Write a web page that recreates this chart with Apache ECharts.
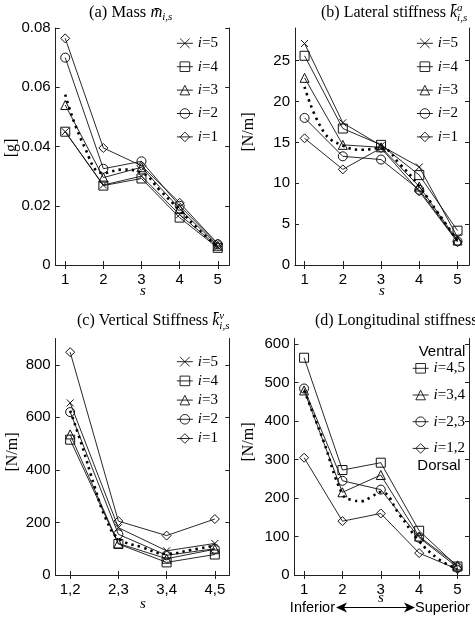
<!DOCTYPE html>
<html><head><meta charset="utf-8">
<script src="https://cdn.jsdelivr.net/npm/echarts@6/dist/echarts.min.js"></script>
<style>html,body{margin:0;padding:0;background:#fff}#c{width:475px;height:621px}</style>
</head><body><div id="c"></div><script>
// ---------- data ----------
const sPos = [1, 2, 3, 4, 5];
const sTicks = [1, 2, 3, 4, 5];
const vertCats = ['1,2', '2,3', '3,4', '4,5'];
const vertPos = [1, 2, 3, 4];

const massTicks = [0, 0.02, 0.04, 0.06, 0.08];
const massI1 = [0.0765, 0.0395, 0.0335, 0.0210, 0.0072];
const massI2 = [0.0700, 0.0325, 0.0350, 0.0200, 0.0070];
const massI3 = [0.0540, 0.0295, 0.0330, 0.0190, 0.0065];
const massI4 = [0.0450, 0.0268, 0.0292, 0.0160, 0.0058];
const massI5 = [0.0450, 0.0270, 0.0300, 0.0170, 0.0062];
const massFitS = [1, 1.5, 2, 2.5, 3, 3.5, 4, 4.5, 5];
const massFit = [0.0575, 0.0400, 0.0310, 0.0322, 0.0312, 0.0250, 0.0185, 0.0120, 0.0060];

const latTicks = [0, 5, 10, 15, 20, 25];
const latI1 = [15.5, 11.7, 14.3, 9.0, 2.8];
const latI2 = [18.0, 13.3, 12.9, 9.2, 2.9];
const latI3 = [22.9, 14.7, 14.4, 9.6, 3.0];
const latI4 = [25.6, 16.7, 14.7, 11.0, 4.2];
const latI5 = [27.1, 17.4, 14.6, 12.0, 3.4];
const latFitS = [1, 1.5, 2, 2.5, 3, 3.5, 4, 4.5, 5];
const latFit = [21.8, 16.3, 14.6, 14.1, 14.3, 12.3, 9.6, 6.3, 3.0];

const vertTicks = [0, 200, 400, 600, 800];
const vertI1 = [848, 205, 150, 213];
const vertI2 = [620, 155, 75, 100];
const vertI3 = [535, 120, 62, 98];
const vertI4 = [515, 118, 48, 78];
const vertI5 = [655, 180, 92, 120];
const vertFitS = [1, 1.25, 1.5, 1.75, 2, 2.5, 3, 3.5, 4];
const vertFit = [625, 490, 340, 210, 140, 105, 80, 95, 112];

const longTicks = [0, 100, 200, 300, 400, 500, 600];
const longI45 = [565, 273, 292, 115, 22];
const longI34 = [480, 215, 260, 100, 25];
const longI23 = [485, 245, 222, 97, 20];
const longI12 = [305, 140, 160, 57, 15];
const longFitS = [1, 1.5, 2, 2.25, 2.5, 2.75, 3, 3.5, 4, 4.5, 5];
const longFit = [480, 350, 210, 195, 192, 203, 216, 155, 88, 42, 15];

// ---------- styling / layout ----------
const SANS = 'Liberation Sans';
const SERIF = 'Liberation Serif';
const grids = [
  {left: 55.7, top: 28, width: 173.5, height: 237},
  {left: 295, top: 28, width: 174, height: 237},
  {left: 55.7, top: 338.5, width: 173.6, height: 236.5},
  {left: 294.5, top: 338.5, width: 174.5, height: 236.5}
];
const SYM = {
  cross: 'path://M0,0L10,10M10,0L0,10',
  square: 'rect', triangle: 'triangle', circle: 'circle', diamond: 'diamond'
};

function lineSeries(name, xs, ys, sym, gi) {
  return {
    type: 'line', name, xAxisIndex: gi * 2, yAxisIndex: gi * 2,
    data: xs.map((x, k) => [x, ys[k]]),
    symbol: SYM[sym], symbolSize: sym === 'cross' ? 7 : 9, showSymbol: true,
    lineStyle: {color: '#111', width: 0.9},
    itemStyle: {color: 'rgba(255,255,255,0)', borderColor: '#111', borderWidth: 1},
    emphasis: {disabled: true}, silent: true, z: 2
  };
}
function fitSeries(xs, ys, gi) {
  return {
    type: 'line', xAxisIndex: gi * 2, yAxisIndex: gi * 2,
    data: xs.map((x, k) => [x, ys[k]]), smooth: 0.45, showSymbol: false, symbol: 'none',
    lineStyle: {color: '#000', width: 2.6, type: [2.4, 4.2], cap: 'butt'},
    emphasis: {disabled: true}, silent: true, z: 3
  };
}
function axesFor(gi, xmin, xmax, xticks, xfmt, ymin, ymax, yticks, yfmt) {
  const al = {show: true, lineStyle: {color: '#222', width: 1}};
  const lab = {color: '#000', fontFamily: SANS, fontSize: 15};
  const x = [
    {type: 'value', gridIndex: gi, min: xmin, max: xmax, position: 'bottom', axisLine: al,
     axisTick: {inside: true, length: 4, customValues: xticks, lineStyle: {color: '#222'}},
     axisLabel: Object.assign({customValues: xticks, margin: 7, formatter: xfmt}, lab),
     splitLine: {show: false}},
    {type: 'value', gridIndex: gi, min: xmin, max: xmax, position: 'top', axisLine: al,
     axisTick: {inside: true, length: 4, customValues: xticks, lineStyle: {color: '#222'}},
     axisLabel: {show: false}, splitLine: {show: false}}
  ];
  const y = [
    {type: 'value', gridIndex: gi, min: ymin, max: ymax, position: 'left', axisLine: al,
     axisTick: {inside: true, length: 4, customValues: yticks, lineStyle: {color: '#222'}},
     axisLabel: Object.assign({customValues: yticks, margin: 5, formatter: yfmt}, lab),
     splitLine: {show: false}},
    {type: 'value', gridIndex: gi, min: ymin, max: ymax, position: 'right', axisLine: al,
     axisTick: {inside: true, length: 4, customValues: yticks, lineStyle: {color: '#222'}},
     axisLabel: {show: false}, splitLine: {show: false}}
  ];
  return {x, y};
}

const axA = axesFor(0, 0.75, 5.3, sTicks, v => String(Math.round(v)), 0, 0.08, massTicks,
  v => (v === 0 ? '0' : v.toFixed(2)));
const axB = axesFor(1, 0.75, 5.3, sTicks, v => String(Math.round(v)), 0, 29, latTicks, v => String(v));
const axC = axesFor(2, 0.7, 4.3, vertPos, v => vertCats[Math.round(v) - 1], 0, 900, vertTicks, v => String(v));
const axD = axesFor(3, 0.75, 5.3, sTicks, v => String(Math.round(v)), 0, 615, longTicks, v => String(v));

const legendRich = {
  i: {fontFamily: SERIF, fontStyle: 'italic', fontSize: 15, color: '#000'},
  n: {fontFamily: SERIF, fontSize: 15, color: '#000'}
};
function legendFor(gi, names, right, top, gap) {
  return {
    data: names, orient: 'vertical', right, top, itemGap: gap, padding: 0,
    itemWidth: 16, itemHeight: 12, selectedMode: false, inactiveColor: '#000',
    itemStyle: {color: 'rgba(255,255,255,0)', borderColor: '#111', borderWidth: 0.9},
    lineStyle: {color: '#111', width: 0.9},
    textStyle: {fontFamily: SERIF, fontSize: 15, color: '#000', rich: legendRich},
    formatter: n => '{i|i}{n|' + n.trim().slice(1) + '}'
  };
}

// ---------- text helper (measures to place scripts) ----------
const mctx = document.createElement('canvas').getContext('2d');
function mathText(x, y, segs, align) {
  let cx = 0, prevStart = 0;
  const items = [];
  segs.forEach(s => {
    const fs = s.fs || 16, it = !!s.it, ff = s.ff || SERIF;
    mctx.font = (it ? 'italic ' : '') + fs + 'px "' + ff + '"';
    const w = mctx.measureText(s.t).width;
    const start = s.stack ? prevStart : cx;
    prevStart = start;
    items.push({t: s.t, fs, it, ff, dy: s.dy || 0, x: start});
    cx = Math.max(cx, start + w);
  });
  const x0 = align === 'center' ? x - cx / 2 : x;
  return items.map(o => ({
    type: 'text', x: x0 + o.x, y: y + o.dy, silent: true, z: 10,
    style: {text: o.t, fill: '#000', fontSize: o.fs, fontFamily: o.ff,
            fontStyle: o.it ? 'italic' : 'normal',
            align: 'left', verticalAlign: 'middle', textAlign: 'left', textVerticalAlign: 'middle'}
  }));
}
function rotText(x, y, t, fs) {
  return {type: 'text', x, y, rotation: Math.PI / 2, silent: true, z: 10,
    style: {text: t, fill: '#000', fontSize: fs, fontFamily: SERIF,
            align: 'center', verticalAlign: 'middle', textAlign: 'center', textVerticalAlign: 'middle'}};
}
function plainText(x, y, t, fs, ff, align, italic) {
  return {type: 'text', x, y, silent: true, z: 10,
    style: {text: t, fill: '#000', fontSize: fs, fontFamily: ff, fontStyle: italic ? 'italic' : 'normal',
            align, verticalAlign: 'middle', textAlign: align, textVerticalAlign: 'middle'}};
}

const graphics = [].concat(
  mathText(89, 13, [{t: '(a) Mass ', fs: 16.5}, {t: 'm\u0304', it: true, fs: 16.5}, {t: 'i,s', it: true, fs: 11, dy: 4}]),
  mathText(321, 13, [{t: '(b) Lateral stiffness '}, {t: 'k\u0304', it: true},
    {t: 'a', it: true, fs: 11, dy: -5}, {t: 'i,s', it: true, fs: 11, dy: 5, stack: true}]),
  mathText(77, 321, [{t: '(c) Vertical Stiffness '}, {t: 'k\u0304', it: true},
    {t: 'v', it: true, fs: 11, dy: -5}, {t: 'i,s', it: true, fs: 11, dy: 5, stack: true}]),
  mathText(315, 321, [{t: '(d) Longitudinal stiffness '}, {t: 'k\u0304', it: true},
    {t: 'l', it: true, fs: 11, dy: -5}, {t: 'i,s', it: true, fs: 11, dy: 5, stack: true}]),
  [
    rotText(12, 148, '[g]', 16),
    rotText(249, 132, '[N/m]', 16),
    rotText(13, 452, '[N/m]', 16),
    rotText(249, 442, '[N/m]', 16),
    plainText(143, 291, 's', 15, SERIF, 'center', true),
    plainText(382, 291, 's', 15, SERIF, 'center', true),
    plainText(143, 604, 's', 15, SERIF, 'center', true),
    plainText(381, 598, 's', 15, SERIF, 'center', true),
    plainText(442, 352, 'Ventral', 15, SANS, 'center'),
    plainText(439, 466, 'Dorsal', 15, SANS, 'center'),
    plainText(335, 608, 'Inferior', 14.5, SANS, 'right'),
    plainText(415, 608, 'Superior', 14.5, SANS, 'left'),
    {type: 'line', silent: true, shape: {x1: 340, y1: 607.5, x2: 411, y2: 607.5},
     style: {stroke: '#000', lineWidth: 1}},
    {type: 'polygon', silent: true, shape: {points: [[336, 607.5], [347, 602.5], [344, 607.5], [347, 612.5]]},
     style: {fill: '#000'}},
    {type: 'polygon', silent: true, shape: {points: [[415, 607.5], [404, 602.5], [407, 607.5], [404, 612.5]]},
     style: {fill: '#000'}}
  ]
);

const option = {
  animation: false,
  backgroundColor: '#fff',
  grid: grids.map(g => Object.assign({containLabel: false, show: false}, g)),
  xAxis: [].concat(axA.x, axB.x, axC.x, axD.x),
  yAxis: [].concat(axA.y, axB.y, axC.y, axD.y),
  legend: [
    legendFor(0, ['i=5', 'i=4', 'i=3', 'i=2', 'i=1'], 257, 35.8, 8.4),
    legendFor(1, ['i=5 ', 'i=4 ', 'i=3 ', 'i=2 ', 'i=1 '], 17, 35.8, 8.4),
    legendFor(2, ['i=5  ', 'i=4  ', 'i=3  ', 'i=2  ', 'i=1  '], 257, 354.2, 4.2),
    legendFor(3, ['i=4,5', 'i=3,4', 'i=2,3', 'i=1,2'], 10, 360.8, 11.7)
  ],
  series: [
    lineSeries('i=1', sPos, massI1, 'diamond', 0),
    lineSeries('i=2', sPos, massI2, 'circle', 0),
    lineSeries('i=3', sPos, massI3, 'triangle', 0),
    lineSeries('i=4', sPos, massI4, 'square', 0),
    lineSeries('i=5', sPos, massI5, 'cross', 0),
    fitSeries(massFitS, massFit, 0),
    lineSeries('i=1 ', sPos, latI1, 'diamond', 1),
    lineSeries('i=2 ', sPos, latI2, 'circle', 1),
    lineSeries('i=3 ', sPos, latI3, 'triangle', 1),
    lineSeries('i=4 ', sPos, latI4, 'square', 1),
    lineSeries('i=5 ', sPos, latI5, 'cross', 1),
    fitSeries(latFitS, latFit, 1),
    lineSeries('i=1  ', vertPos, vertI1, 'diamond', 2),
    lineSeries('i=2  ', vertPos, vertI2, 'circle', 2),
    lineSeries('i=3  ', vertPos, vertI3, 'triangle', 2),
    lineSeries('i=4  ', vertPos, vertI4, 'square', 2),
    lineSeries('i=5  ', vertPos, vertI5, 'cross', 2),
    fitSeries(vertFitS, vertFit, 2),
    lineSeries('i=1,2', sPos, longI12, 'diamond', 3),
    lineSeries('i=2,3', sPos, longI23, 'circle', 3),
    lineSeries('i=3,4', sPos, longI34, 'triangle', 3),
    lineSeries('i=4,5', sPos, longI45, 'square', 3),
    fitSeries(longFitS, longFit, 3)
  ],
  graphic: graphics
};
const chart = echarts.init(document.getElementById('c'), null, {renderer: 'canvas'});
chart.setOption(option);
</script></body></html>
